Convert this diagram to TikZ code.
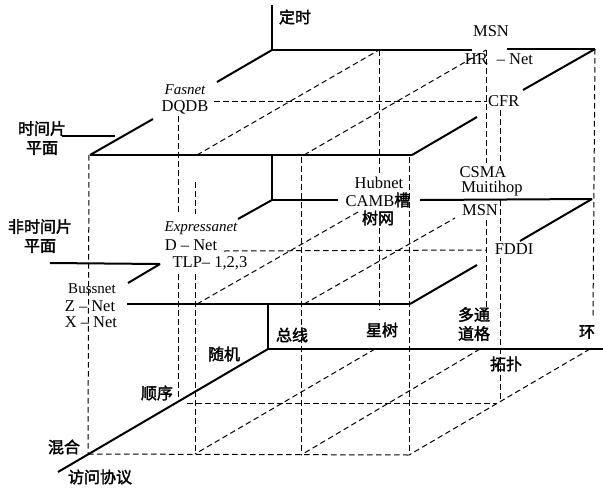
\documentclass[tikz,border=0pt]{standalone}
\usepackage{fontspec}
\setmainfont{Liberation Serif}
\newfontfamily\cjk[FakeBold=2]{Noto Sans CJK SC}
\begin{document}
\begin{tikzpicture}[x=1pt,y=-1pt,
  vis/.style={line width=2pt},
  hid/.style={line width=1pt, dash pattern=on 5.5pt off 3.5pt},
  lab/.style={inner sep=0pt, font=\fontsize{16.5}{17}\selectfont},
  sm/.style={inner sep=0pt, font=\fontsize{15}{16}\selectfont\itshape},
  smu/.style={inner sep=0pt, font=\fontsize{15}{16}\selectfont},
  zh/.style={inner sep=0pt, font=\cjk\fontsize{16}{19}\selectfont, align=center},
]
\useasboundingbox (0,0) rectangle (603,488);
\fill[white] (0,0) rectangle (603,488);

% ---------- grid points ----------
\coordinate (TB0) at (272,50);  \coordinate (TB1) at (379,50);
\coordinate (TB2) at (486,50);  \coordinate (TB3) at (595,49);
\coordinate (TF0) at (90,155);  \coordinate (TF1) at (197,155);
\coordinate (TF2) at (304,155); \coordinate (TF3) at (412,155);
\coordinate (MB0) at (272,200); \coordinate (MB3) at (592,199);
\coordinate (MF1) at (197,304); \coordinate (MF2) at (304,304);
\coordinate (MF3) at (410,304);
\coordinate (BB0) at (268,349); \coordinate (BB1) at (375,349);
\coordinate (BB2) at (480,349); \coordinate (BB3) at (590,349);
\coordinate (BF0) at (88,454);  \coordinate (BF1) at (195,454);
\coordinate (BF2) at (301,455); \coordinate (BF3) at (409,455);
\coordinate (AxT) at (272,5);   \coordinate (AxX) at (603,349);
\coordinate (AxD) at (58,472);

% ---------- top plane ----------
\draw[vis] (AxT) -- (TB0);
\draw[vis] (TB0) -- (472,50);
\draw[vis] (507,49) -- (TB3);
\draw[vis] (TB3) -- (523,90);
\draw[vis] (477,117) -- (TF3);
\draw[vis] (TF3) -- (TF0);
\draw[vis] (TF0) -- (153,119);
\draw[vis] (217,82) -- (TB0);
\draw[vis] (62,136) -- (115,136);
\draw[hid] (214,101) -- (487,101);
\draw[hid] (TF1) -- (TB1);
\draw[hid] (TF2) -- (TB2);

% ---------- middle plane ----------
\draw[vis] (272,155) -- (MB0);
\draw[vis] (MB0) -- (338,200);
\draw[vis] (420,200) -- (MB3);
\draw[vis] (MB3) -- (520,241);
\draw[vis] (477,265) -- (MF3);
\draw[vis] (127,304) -- (MF3);
\draw[vis] (MB0) -- (238,219);
\draw[vis] (160,264) -- (128,283);
\draw[vis] (50,263) -- (160,264);
\draw[hid] (224,251) -- (486,250);
\draw[hid] (MF1) -- (358,212);
\draw[hid] (MF2) -- (455,218);

% ---------- bottom ----------
\draw[vis] (268,305) -- (BB0);
\draw[vis] (BB0) -- (AxX);
\draw[vis] (BB0) -- (AxD);
\draw[hid] (187,403) -- (497,403);
\draw[hid] (BF0) -- (BF3);
\draw[hid] (BB1) -- (BF1);
\draw[hid] (BB2) -- (BF2);
\draw[hid] (BB3) -- (BF3);

% ---------- verticals ----------
\draw[hid] (89,155) -- (BF0);
\draw[hid] (195,182) -- (195,214);
\draw[hid] (195,274) -- (BF1);
\draw[hid] (301,157) -- (BF2);
\draw[hid] (409,157) -- (BF3);
\draw[hid] (178,116) -- (178,214);
\draw[hid] (178,274) -- (178,400);
\draw[hid] (TB1) -- (379,173);
\draw[hid] (379,228) -- (379,310);
\draw[hid] (TB2) -- (486,163);
\draw[hid] (486,220) -- (486,307);
\draw[hid] (500,110) -- (500,163);
\draw[hid] (500,200) -- (500,241);
\draw[hid] (500,258) -- (500,400);
\draw[hid] (TB3) -- (593,318);

% ---------- labels ----------
\node[zh] (tDingshi) at (295,17) {定时};
\node[lab] (tMSN1) at (491,31) {MSN};
\node[lab] (tHR) at (499,59) {HR\hspace{9pt}– Net};
\node[lab, anchor=west] (tCFR) at (488,101) {CFR};
\node[sm] (tFasnet) at (185,90) {Fasnet};
\node[lab] (tDQDB) at (185,107) {DQDB};
\node[zh] (tSlot) at (42,138) {时间片\\平面};
\node[lab] (tHub) at (379,183) {Hubnet};
\node[lab] (tCAMB) at (378,200) {CAMB{\cjk\fontsize{16}{19}\selectfont 槽}};
\node[zh] (tTree) at (378,218) {树网};
\node[lab] (tCSMA) at (483,172) {CSMA};
\node[lab] (tMulti) at (492,189) {Muitihop};
\node[lab] (tMSN2) at (480,210) {MSN};
\node[lab] (tFDDI) at (514,249) {FDDI};
\node[zh] (tNonSlot) at (40,236) {非时间片\\平面};
\node[sm] (tExp) at (201,228) {Expressanet};
\node[lab] (tDNet) at (191,245) {D – Net};
\node[lab] (tTLP) at (210,263) {TLP– 1,2,3};
\node[smu] (tBus) at (92,289) {Bussnet};
\node[lab] (tZ) at (90,306) {Z –\hspace{4pt}Net};
\node[lab] (tX) at (91,322) {X –\hspace{4pt}Net};
\node[zh] (tZongxian) at (292,335) {总线};
\node[zh] (tXingshu) at (382,330) {星树};
\node[zh] (tDuotong) at (474,324) {多通\\道格};
\node[zh] (tHuan) at (587,332) {环};
\node[zh] (tTuopu) at (506,364) {拓扑};
\node[zh] (tSuiji) at (224,354) {随机};
\node[zh] (tShunxu) at (157,393) {顺序};
\node[zh] (tHunhe) at (64,447) {混合};
\node[zh] (tFangwen) at (100,477) {访问协议};
\end{tikzpicture}
\end{document}
